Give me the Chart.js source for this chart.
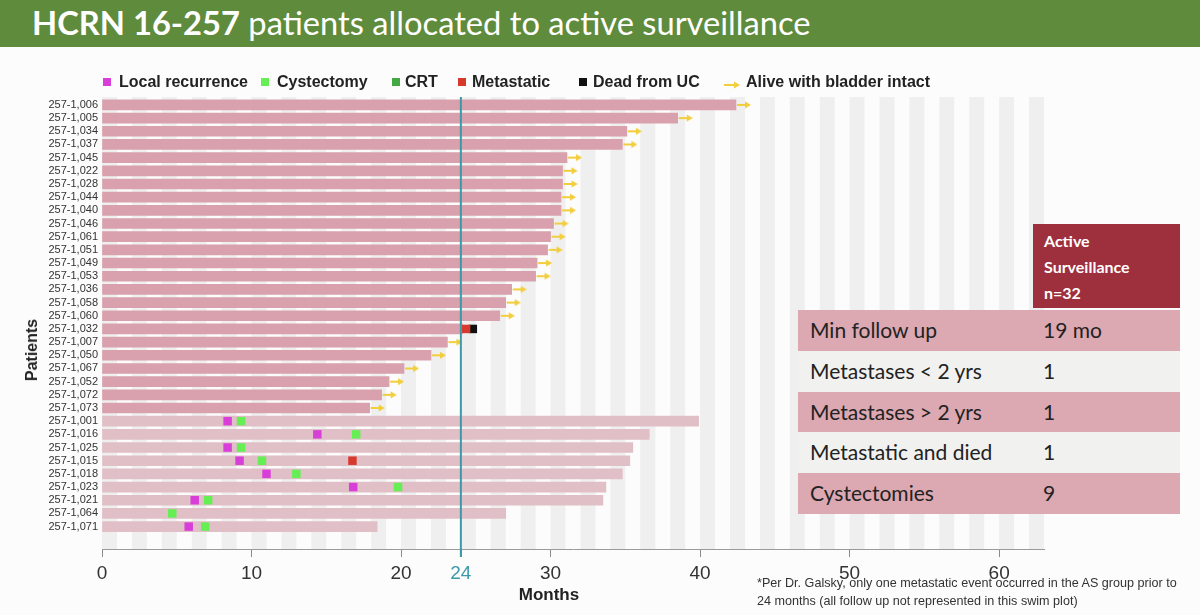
<!DOCTYPE html>
<html><head><meta charset="utf-8">
<script src="https://cdn.jsdelivr.net/npm/chart.js@4.4.1/dist/chart.umd.min.js"></script>
<style>
html,body{margin:0;padding:0;background:#fcfcfc;width:1200px;height:615px;overflow:hidden;font-family:"Liberation Sans",Arial,sans-serif;}
#banner{position:absolute;left:0;top:0;width:1200px;height:47px;background:#5f8b3d;color:#fff;font-family:Lato,"Open Sans",sans-serif;font-size:32.7px;line-height:46px;white-space:nowrap;}
#banner span.t{position:absolute;left:32px;top:0;}
#banner b{font-weight:700;}
#chartwrap{position:absolute;left:0;top:0;width:1200px;height:615px;}
.lg{position:absolute;top:72px;height:20px;font-weight:700;font-size:16px;color:#222;line-height:20px;white-space:nowrap;}
.sq{position:absolute;width:8px;height:8px;top:78px;}
#ytitle{position:absolute;left:32px;top:350px;transform:translate(-50%,-50%) rotate(-90deg);font-weight:700;font-size:16px;color:#222;white-space:nowrap;}
#xtitle{position:absolute;left:549px;top:595px;transform:translate(-50%,-50%);font-weight:700;font-size:17px;color:#222;white-space:nowrap;}
#note{position:absolute;left:757px;top:574px;font-family:"Liberation Sans Narrow","Liberation Sans",sans-serif;font-size:12.6px;line-height:18px;color:#333;white-space:nowrap;}
#thead{position:absolute;left:1033px;top:224px;width:136px;height:80px;padding:4px 0 0 11px;background:#9e2f3d;color:#fff;font-family:Lato,sans-serif;font-weight:700;font-size:16px;line-height:26px;}
#tbl{position:absolute;left:798px;top:310px;width:382px;font-family:Lato,sans-serif;font-size:21px;color:#222;}
#tbl .r{position:relative;height:40.8px;line-height:40.8px;}
#tbl .r span.l{position:absolute;left:12px;}
#tbl .r span.v{position:absolute;left:245px;}
#tbl .p{background:#dca8b1;}
#tbl .g{background:#f1f1f0;}
</style></head>
<body>
<div id="chartwrap"><canvas id="c" width="1200" height="615"></canvas></div>
<div id="banner"><span class="t"><b>HCRN 16-257</b> patients allocated to active surveillance</span></div>
<div id="legend"></div>
<div id="ytitle">Patients</div>
<div id="xtitle">Months</div>
<div id="note">*Per Dr. Galsky, only one metastatic event occurred in the AS group prior to<br>24 months (all follow up not represented in this swim plot)</div>
<div id="thead">Active<br>Surveillance<br>n=32</div>
<div id="tbl"></div>
<script>
// ---------- DATA ----------
const patients = ['257-1,006','257-1,005','257-1,034','257-1,037','257-1,045','257-1,022','257-1,028','257-1,044','257-1,040','257-1,046','257-1,061','257-1,051','257-1,049','257-1,053','257-1,036','257-1,058','257-1,060','257-1,032','257-1,007','257-1,050','257-1,067','257-1,052','257-1,072','257-1,073','257-1,001','257-1,016','257-1,025','257-1,015','257-1,018','257-1,023','257-1,021','257-1,064','257-1,071'];
const followUp = [42.4,38.5,35.1,34.8,31.1,30.8,30.8,30.7,30.7,30.2,30.0,29.8,29.1,29.0,27.4,27.0,26.6,24.1,23.1,22.0,20.2,19.2,18.7,17.9,39.9,36.6,35.5,35.3,34.8,33.7,33.5,27.0,18.4];
const intactGroup = ['257-1,006','257-1,005','257-1,034','257-1,037','257-1,045','257-1,022','257-1,028','257-1,044','257-1,040','257-1,046','257-1,061','257-1,051','257-1,049','257-1,053','257-1,036','257-1,058','257-1,060','257-1,032','257-1,007','257-1,050','257-1,067','257-1,052','257-1,072','257-1,073'];
const aliveIntact = ['257-1,006','257-1,005','257-1,034','257-1,037','257-1,045','257-1,022','257-1,028','257-1,044','257-1,040','257-1,046','257-1,061','257-1,051','257-1,049','257-1,053','257-1,036','257-1,058','257-1,060','257-1,007','257-1,050','257-1,067','257-1,052','257-1,072','257-1,073'];
const localRecurrence = [['257-1,001',8.4],['257-1,016',14.4],['257-1,025',8.4],['257-1,015',9.2],['257-1,018',11.0],['257-1,023',16.8],['257-1,021',6.2],['257-1,071',5.8]];
const cystectomy = [['257-1,001',9.3],['257-1,016',17.0],['257-1,025',9.3],['257-1,015',10.7],['257-1,018',13.0],['257-1,023',19.8],['257-1,021',7.1],['257-1,064',4.7],['257-1,071',6.9]];
const crt = [];
const metastatic = [['257-1,032',24.35],['257-1,015',16.75]];
const deadFromUC = [['257-1,032',24.8]];
const xTickValues = [0,10,20,24,30,40,50,60];
const landmark = 24;
const xMax = 63;
const tableRows = [['Min follow up','19 mo'],['Metastases < 2 yrs','1'],['Metastases > 2 yrs','1'],['Metastatic and died','1'],['Cystectomies','9']];

// ---------- STYLE ----------
const C = {
  barDark:'#d8a1ad', barLight:'#e0bfc6', local:'#d83fd8', cyst:'#66ee55', crt:'#44a844',
  meta:'#d63a2c', dead:'#111111', arrow:'#f2cd3c', teal:'#3a9aa8', stripe:'#efefef'
};

// legend
const legendItems = [
  {label:'Local recurrence', color:C.local, sq:103, tx:119},
  {label:'Cystectomy', color:C.cyst, sq:261, tx:277},
  {label:'CRT', color:C.crt, sq:392, tx:405},
  {label:'Metastatic', color:C.meta, sq:458, tx:472},
  {label:'Dead from UC', color:C.dead, sq:579, tx:593},
  {label:'Alive with bladder intact', arrow:true, sq:724, tx:746}
];
const lg = document.getElementById('legend');
legendItems.forEach(it=>{
  if(it.arrow){
    const s = document.createElement('div');
    s.style.cssText='position:absolute;left:'+it.sq+'px;top:76px;width:16px;height:10px;';
    s.innerHTML='<svg width="16" height="10"><line x1="0" y1="5" x2="11" y2="5" stroke="'+C.arrow+'" stroke-width="2"/><polygon points="10,1.5 16,5 10,8.5" fill="'+C.arrow+'"/></svg>';
    lg.appendChild(s);
  } else {
    const s = document.createElement('div'); s.className='sq';
    s.style.left=it.sq+'px'; s.style.background=it.color; lg.appendChild(s);
  }
  const t = document.createElement('div'); t.className='lg'; t.style.left=it.tx+'px'; t.textContent=it.label; lg.appendChild(t);
});
// table
const tbl = document.getElementById('tbl');
tableRows.forEach((r,i)=>{
  const d=document.createElement('div'); d.className='r '+(i%2===0?'p':'g');
  d.innerHTML='<span class="l"></span><span class="v"></span>';
  d.querySelector('.l').textContent=r[0]; d.querySelector('.v').textContent=r[1];
  tbl.appendChild(d);
});

// arrow point image: arrow drawn in right half so point x = end of bar
const arrowImg = document.createElement('canvas');
arrowImg.width = 30; arrowImg.height = 10;
(function(){
  const g = arrowImg.getContext('2d');
  g.strokeStyle = C.arrow; g.fillStyle = C.arrow; g.lineWidth = 2;
  g.beginPath(); g.moveTo(16,5); g.lineTo(25,5); g.stroke();
  g.beginPath(); g.moveTo(24,1.5); g.lineTo(30,5); g.lineTo(24,8.5); g.closePath(); g.fill();
})();

const idx = p => patients.indexOf(p);
const toPts = arr => arr.map(([p,m])=>({x:m, y:idx(p)}));

const stripePlugin = {
  id:'stripes',
  beforeDatasetsDraw(chart){
    const {ctx, chartArea:a, scales:{x}} = chart;
    ctx.save(); ctx.fillStyle = C.stripe;
    for(let k=0; 2*k < xMax; k++){
      const x1 = x.getPixelForValue(2*k), x2 = x.getPixelForValue(Math.min(2*k+1,xMax));
      ctx.fillRect(x1, a.top, x2-x1, a.bottom-a.top);
    }
    ctx.restore();
  },
  afterDatasetsDraw(chart){
    const {ctx, chartArea:a, scales:{x}} = chart;
    const px = x.getPixelForValue(landmark);
    ctx.save(); ctx.strokeStyle = C.teal; ctx.lineWidth = 2;
    ctx.beginPath(); ctx.moveTo(px, a.top); ctx.lineTo(px, a.bottom+8); ctx.stroke();
    ctx.restore();
  }
};

new Chart(document.getElementById('c'), {
  data:{
    datasets:[
      {type:'bar', label:'Follow up', indexAxis:'y', data:followUp.map((e,i)=>({x:e,y:i})),
       backgroundColor:patients.map(p=>intactGroup.includes(p)?C.barDark:C.barLight),
       barThickness:10, grouped:false, order:5},
      {type:'scatter', label:'Alive with bladder intact', data:aliveIntact.map(p=>({x:followUp[idx(p)], y:idx(p)})),
       pointStyle:arrowImg, order:1},
      {type:'scatter', label:'Local recurrence', data:toPts(localRecurrence), pointStyle:'rect', pointRadius:6, backgroundColor:C.local, borderWidth:0, order:1},
      {type:'scatter', label:'Cystectomy', data:toPts(cystectomy), pointStyle:'rect', pointRadius:6, backgroundColor:C.cyst, borderWidth:0, order:1},
      {type:'scatter', label:'CRT', data:toPts(crt), pointStyle:'rect', pointRadius:6, backgroundColor:C.crt, borderWidth:0, order:1},
      {type:'scatter', label:'Metastatic', data:toPts(metastatic), pointStyle:'rect', pointRadius:6, backgroundColor:C.meta, borderWidth:0, order:1},
      {type:'scatter', label:'Dead from UC', data:toPts(deadFromUC), pointStyle:'rect', pointRadius:6, backgroundColor:C.dead, borderWidth:0, order:1}
    ]
  },
  options:{
    responsive:false, animation:false, devicePixelRatio:1,
    layout:{padding:{top:97, right:156, bottom:0, left:0}},
    plugins:{legend:{display:false}, tooltip:{enabled:false}},
    scales:{
      x:{type:'linear', min:0, max:xMax, offset:false,
        afterBuildTicks:s=>{s.ticks = xTickValues.map(v=>({value:v}));},
        afterFit:s=>{s.height = 66;},
        ticks:{autoSkip:false, maxRotation:0, padding:5,
          font:{family:'"Liberation Sans Narrow","Liberation Sans",sans-serif', size:19},
          color:c=>c.tick.value===landmark?C.teal:'#333'},
        grid:{drawOnChartArea:false, drawTicks:true, tickLength:8, offset:false,
          color:c=>c.tick && c.tick.value===landmark?C.teal:'#8a8a8a', lineWidth:c=>c.tick && c.tick.value===landmark?2:1},
        border:{display:true, color:'#9a9a9a'}
      },
      y:{type:'linear', reverse:true, min:-0.6, max:33.7, offset:false,
        afterBuildTicks:s=>{s.ticks = patients.map((_,i)=>({value:i}));},
        afterFit:s=>{s.width = 102;},
        ticks:{autoSkip:false, padding:4, callback:v=>patients[v] ?? '',
          font:{family:'"Liberation Sans",Arial,sans-serif', size:11}, color:'#333'},
        grid:{display:false, drawTicks:false, offset:false}, border:{display:false}
      }
    }
  },
  plugins:[stripePlugin]
});
</script>
</body></html>
